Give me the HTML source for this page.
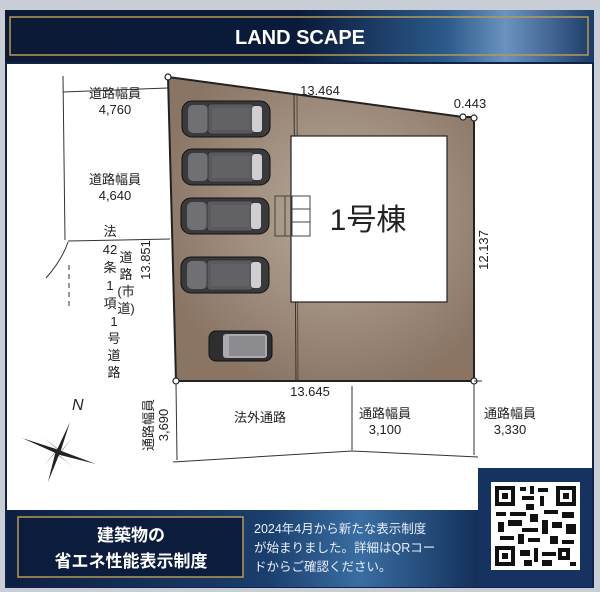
<!DOCTYPE html>
<html><head><meta charset="utf-8"><style>
body{margin:0;width:600px;height:592px;overflow:hidden;background:#c9ced6;}
svg{display:block}
text{font-family:"Liberation Sans","Noto Sans CJK JP",sans-serif;}
</style></head><body>
<svg width="600" height="592" viewBox="0 0 600 592" xmlns="http://www.w3.org/2000/svg">
<defs>
<linearGradient id="hdr" x1="0" x2="1" y1="0" y2="0">
<stop offset="0" stop-color="#0c1a36"/><stop offset="0.5" stop-color="#0a1a3a"/><stop offset="0.75" stop-color="#2c5a8a"/><stop offset="0.85" stop-color="#6b93c0"/><stop offset="1" stop-color="#1c3a66"/></linearGradient>
<linearGradient id="bot" x1="0" x2="1" y1="0" y2="0">
<stop offset="0" stop-color="#0d1f42"/><stop offset="0.55" stop-color="#1a3e6c"/><stop offset="0.75" stop-color="#3a6ea2"/><stop offset="1" stop-color="#14305a"/></linearGradient>
<radialGradient id="lot" cx="0.55" cy="0.45" r="0.6"><stop offset="0" stop-color="#b9aa9a"/><stop offset="1" stop-color="#8a7565"/></radialGradient>
<g id="car">
<rect x="0" y="0" width="88" height="36" rx="10" fill="#3a3a3c" stroke="#111" stroke-width="1"/>
<rect x="6" y="4" width="20" height="28" rx="5" fill="#707074"/>
<rect x="26" y="3" width="46" height="30" rx="3" fill="#5a5a5e" stroke="#222" stroke-width="0.6"/>
<rect x="70" y="5" width="10" height="26" rx="3" fill="#cfcfd3"/>
<rect x="30" y="7" width="38" height="22" fill="#626266"/>
</g>
</defs>
<rect x="5" y="10" width="589" height="578" fill="#0f2447"/>
<rect x="5" y="10" width="589" height="52" fill="url(#hdr)"/>
<rect x="10" y="17" width="578" height="38" fill="none" stroke="#b59a55" stroke-width="1.5"/>
<text x="300" y="44" text-anchor="middle" fill="#fff" font-size="20" font-weight="bold">LAND SCAPE</text>
<!-- white area -->
<path d="M7 64 H592 V468 H478 V510 H7 Z" fill="#fff"/>
<!-- bottom banner -->
<rect x="7" y="510" width="471" height="77" fill="url(#bot)"/>
<rect x="478" y="468" width="114" height="119" fill="#163260"/>
<rect x="18" y="517" width="225" height="60" fill="#0c1c3c" stroke="#b59a55" stroke-width="1.5"/>
<text x="131" y="541" text-anchor="middle" fill="#fff" font-size="17" font-weight="bold">建築物の</text>
<text x="131" y="567" text-anchor="middle" fill="#fff" font-size="17" font-weight="bold">省エネ性能表示制度</text>
<text x="254" y="533" fill="#e8eef8" font-size="12.5">2024年4月から新たな表示制度</text>
<text x="254" y="552" fill="#e8eef8" font-size="12.5">が始まりました。詳細はQRコー</text>
<text x="254" y="571" fill="#e8eef8" font-size="12.5">ドからご確認ください。</text>
<!-- QR -->
<rect x="491" y="482" width="89" height="88" fill="#fff"/>
<g fill="#111">
<rect x="495" y="486" width="20" height="20"/><rect x="499" y="490" width="12" height="12" fill="#fff"/><rect x="502" y="493" width="6" height="6"/>
<rect x="556" y="486" width="20" height="20"/><rect x="560" y="490" width="12" height="12" fill="#fff"/><rect x="563" y="493" width="6" height="6"/>
<rect x="495" y="546" width="20" height="20"/><rect x="499" y="550" width="12" height="12" fill="#fff"/><rect x="502" y="553" width="6" height="6"/>
<rect x="520" y="487" width="6" height="4"/><rect x="530" y="486" width="4" height="8"/><rect x="538" y="488" width="10" height="4"/><rect x="522" y="496" width="12" height="4"/><rect x="540" y="496" width="4" height="10"/><rect x="526" y="504" width="8" height="6"/>
<rect x="496" y="512" width="10" height="4"/><rect x="510" y="512" width="16" height="4"/><rect x="530" y="514" width="8" height="8"/><rect x="544" y="510" width="14" height="4"/><rect x="562" y="512" width="12" height="6"/>
<rect x="498" y="522" width="6" height="10"/><rect x="508" y="520" width="14" height="6"/><rect x="522" y="528" width="16" height="4"/><rect x="542" y="520" width="6" height="14"/><rect x="552" y="522" width="10" height="6"/><rect x="566" y="524" width="10" height="10"/>
<rect x="500" y="536" width="14" height="4"/><rect x="518" y="534" width="6" height="10"/><rect x="528" y="538" width="12" height="4"/><rect x="550" y="536" width="8" height="8"/><rect x="562" y="540" width="12" height="4"/>
<rect x="520" y="550" width="10" height="6"/><rect x="534" y="548" width="4" height="14"/><rect x="542" y="552" width="14" height="4"/><rect x="558" y="548" width="12" height="12"/><rect x="562" y="552" width="4" height="4" fill="#fff"/><rect x="524" y="560" width="8" height="6"/><rect x="542" y="560" width="10" height="6"/><rect x="570" y="562" width="6" height="4"/>
</g>
<!-- Lot -->
<polygon points="168,77 463,117 474,117 474,381 176,381" fill="url(#lot)" stroke="#222" stroke-width="2"/>
<line x1="294" y1="95" x2="296" y2="381" stroke="#3a3028" stroke-width="1"/>
<line x1="297" y1="95" x2="298" y2="381" stroke="#3a3028" stroke-width="0.7"/>
<rect x="291" y="136" width="156" height="166" fill="#fff" stroke="#222" stroke-width="1.2"/>
<rect x="275" y="196" width="35" height="40" fill="none" stroke="#444" stroke-width="1"/>
<line x1="285" y1="196" x2="285" y2="236" stroke="#444"/><line x1="292" y1="196" x2="292" y2="236" stroke="#444"/><line x1="292" y1="209" x2="310" y2="209" stroke="#444"/><line x1="292" y1="222" x2="310" y2="222" stroke="#444"/>
<text x="368" y="230" text-anchor="middle" font-size="30" fill="#222">1号棟</text>
<use href="#car" x="182" y="101"/>
<use href="#car" x="182" y="149"/>
<use href="#car" x="181" y="198"/>
<use href="#car" x="181" y="257"/>
<g transform="translate(209,331)"><rect width="63" height="30" rx="7" fill="#2e2e30" stroke="#111"/><rect x="14" y="3" width="44" height="24" rx="3" fill="#aaaab0"/><rect x="20" y="5" width="36" height="20" fill="#8b8b90"/></g>
<!-- corner circles -->
<g fill="#fff" stroke="#222" stroke-width="1.2"><circle cx="168" cy="77" r="3"/><circle cx="463" cy="117" r="3"/><circle cx="474" cy="118" r="3"/><circle cx="176" cy="381" r="3"/><circle cx="474" cy="381" r="3"/></g>
<!-- dims -->
<g stroke="#333" stroke-width="1" fill="none">
<line x1="63" y1="76" x2="65" y2="240"/>
<line x1="63" y1="92" x2="168" y2="88"/>
<line x1="68" y1="241" x2="170" y2="239"/>
<path d="M68 242 Q62 260 46 278"/>
<line x1="69" y1="265" x2="69" y2="308" stroke-dasharray="5,4"/>
<line x1="176" y1="384" x2="177" y2="460"/>
<polyline points="173,462 352,451 478,457"/>
<line x1="352" y1="386" x2="352" y2="450"/>
<line x1="474" y1="384" x2="474" y2="455"/>
<line x1="474" y1="381" x2="482" y2="381"/>
</g>
<g font-size="13" fill="#222" text-anchor="middle">
<text x="115" y="98">道路幅員</text><text x="115" y="114">4,760</text>
<text x="115" y="184">道路幅員</text><text x="115" y="200">4,640</text>
<text x="320" y="95">13.464</text>
<text x="470" y="108">0.443</text>
<text x="310" y="396">13.645</text>
<text x="260" y="422">法外通路</text>
<text x="385" y="418">通路幅員</text><text x="385" y="434">3,100</text>
<text x="510" y="418">通路幅員</text><text x="510" y="434">3,330</text>
</g>
<g font-size="13" fill="#222">
<text transform="translate(150,260) rotate(-90)" text-anchor="middle">13.851</text>
<text transform="translate(488,250) rotate(-90)" text-anchor="middle">12.137</text>
<text transform="translate(153,425) rotate(-90)" text-anchor="middle">通路幅員</text>
<text transform="translate(168,425) rotate(-90)" text-anchor="middle">3,690</text>
</g>
<g font-size="13" fill="#222" text-anchor="middle">
<text x="110" y="236">法</text><text x="110" y="254">42</text><text x="110" y="272">条</text><text x="110" y="290">1</text><text x="110" y="308">項</text>
<text x="126" y="262">道</text><text x="126" y="279">路</text><text x="126" y="296">(市</text><text x="126" y="313">道)</text><text x="114" y="326">1</text><text x="114" y="343">号</text><text x="114" y="360">道</text><text x="114" y="377">路</text>
</g>
<!-- compass -->
<text x="72" y="410" font-size="16" font-style="italic" font-family="Liberation Serif" fill="#222">N</text>
<g fill="#222" transform="translate(58,452)">
<polygon points="12,-30 3,-2 -3,2"/><polygon points="-10,30 3,-2 -3,2"/>
<polygon points="-36,-14 -2,-3 2,3"/><polygon points="38,12 -2,-3 2,3"/>
<polygon points="-14,-14 0,-3 3,0"/><polygon points="14,14 0,3 -3,0"/><polygon points="14,-14 3,0 0,3"/><polygon points="-14,14 -3,0 0,-3"/>
<circle r="3"/>
</g>
</svg>
</body></html>
